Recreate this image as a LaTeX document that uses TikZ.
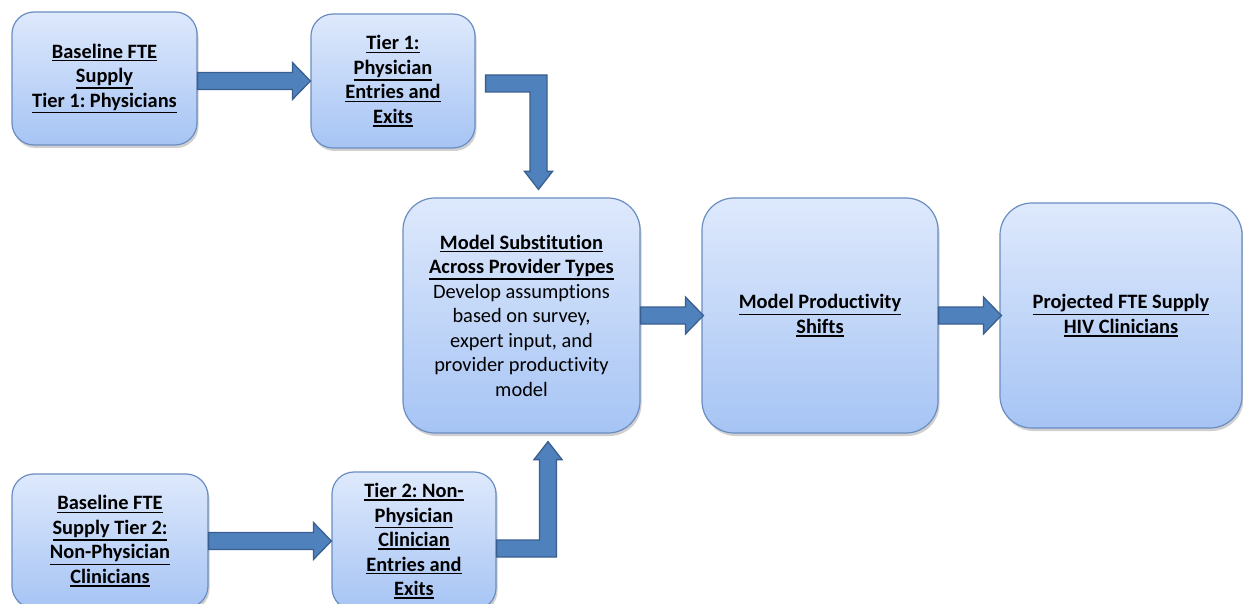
\documentclass[tikz,border=0pt]{standalone}
\usepackage{fontspec}
\setmainfont{Carlito}[Ligatures=NoCommon]
\frenchspacing
\usetikzlibrary{calc,shadows}
\definecolor{boxtop}{HTML}{DEE9FC}
\definecolor{boxbot}{HTML}{A6C4F4}
\definecolor{boxline}{HTML}{6A8DC2}
\definecolor{arrfill}{HTML}{4F81BD}
\definecolor{arrline}{HTML}{3A5F8F}
\newcommand\uln[1]{\leavevmode\vtop{\hbox{#1}\kern1.6pt\hrule height 1.5pt}}
\tikzset{
  flowbox/.style={rounded corners=#1, draw=boxline, line width=1.2pt,
    top color=boxtop, bottom color=boxbot, align=center,
    font=\fontsize{20.4}{24.5}\selectfont\bfseries, inner sep=0pt,
    drop shadow={shadow xshift=1.5pt, shadow yshift=-3pt, opacity=0.3, fill=black!60}},
  fat/.style={fill=arrfill, draw=arrline, line width=1.3pt, line join=miter}
}
\newcommand\harrow[2]{%
  \draw[fat] ($#1+(0,-8.5)$) -- ($#2+(-18,-8.5)$) -- ($#2+(-18,-18.5)$) -- #2
    -- ($#2+(-18,18.5)$) -- ($#2+(-18,8.5)$) -- ($#1+(0,8.5)$) -- cycle;}
\begin{document}
\begin{tikzpicture}[x=1pt,y=-1pt]
\clip (0,0) rectangle (1243,604);
\fill[white] (0,0) rectangle (1243,604);
\node[flowbox=22pt, minimum width=185pt, minimum height=133pt] (A) at (104.5,78.5)
  {\uln{Baseline FTE}\\\uln{Supply}\\\uln{Tier 1: Physicians}};
\node[flowbox=22pt, minimum width=164pt, minimum height=134pt] (B) at (393,81)
  {\uln{Tier 1:}\\\uln{Physician}\\\uln{Entries and}\\\uln{Exits}};
\node[flowbox=32pt, minimum width=237pt, minimum height=235pt] (C) at (521.5,315.5)
  {\uln{Model Substitution}\\\uln{Across Provider Types}\\\mdseries Develop assumptions\\\mdseries based on survey,\\\mdseries expert input, and\\\mdseries provider productivity\\\mdseries model};
\node[flowbox=32pt, minimum width=236pt, minimum height=235pt] (D) at (820,315.5)
  {\uln{Model Productivity}\\\uln{Shifts}};
\node[flowbox=32pt, minimum width=242pt, minimum height=225pt] (E) at (1121,315.5)
  {\uln{Projected FTE Supply}\\\uln{HIV Clinicians}};
\node[flowbox=22pt, minimum width=196pt, minimum height=134pt] (F) at (110,541)
  {\uln{Baseline FTE}\\\uln{Supply Tier 2:}\\\uln{Non-Physician}\\\uln{Clinicians}};
\node[flowbox=22pt, minimum width=164pt, minimum height=138pt] (G) at (414,541)
  {\uln{Tier 2: Non-}\\\uln{Physician}\\\uln{Clinician}\\\uln{Entries and}\\\uln{Exits}};
% straight arrows
\coordinate (a1) at (A.east |- B.west);
\harrow{(a1)}{(B.west)}
\harrow{(C.east)}{($(D.west)+(2,0)$)}
\harrow{(D.east)}{($(E.west)+(2,0)$)}
\harrow{(F.east)}{(G.west)}
% bent arrow B -> C
\coordinate (s1) at ($(B.east)+(10,2.5)$);
\coordinate (t1) at ($(C.north)+(17,-8)$);
\draw[fat] ($(s1)+(0,-8.5)$) -- ($(t1|-s1)+(8.5,-8.5)$) -- ($(t1)+(8.5,-18)$)
  -- ($(t1)+(14,-18)$) -- (t1) -- ($(t1)+(-14,-18)$) -- ($(t1)+(-8.5,-18)$)
  -- ($(t1|-s1)+(-8.5,8.5)$) -- ($(s1)+(0,8.5)$) -- cycle;
% bent arrow G -> C
\coordinate (s2) at ($(G.east)+(0,7.5)$);
\coordinate (t2) at ($(C.south)+(26.5,8)$);
\draw[fat] ($(s2)+(0,-8.5)$) -- ($(t2|-s2)+(-8.5,-8.5)$) -- ($(t2)+(-8.5,18)$)
  -- ($(t2)+(-14,18)$) -- (t2) -- ($(t2)+(14,18)$) -- ($(t2)+(8.5,18)$)
  -- ($(t2|-s2)+(8.5,8.5)$) -- ($(s2)+(0,8.5)$) -- cycle;
\end{tikzpicture}
\end{document}
